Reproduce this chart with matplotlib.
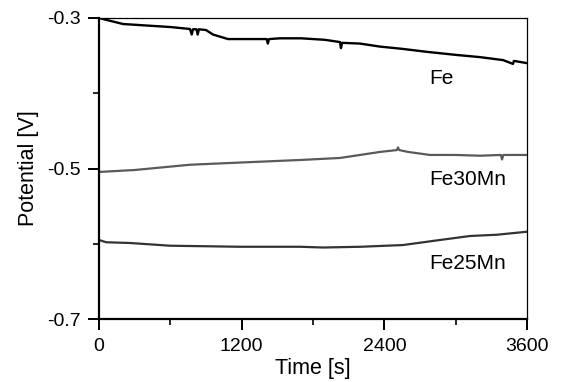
import matplotlib.pyplot as plt
from matplotlib.ticker import MultipleLocator

plt.rcParams['font.family'] = ['Liberation Sans', 'DejaVu Sans']

# Fe (black) -- includes the small measurement spikes
fe_t = [0, 100, 202, 400, 600, 765, 780, 790, 820, 830, 840, 900, 959, 1085,
        1300, 1410, 1420, 1430, 1522, 1700, 1900, 2027, 2035, 2045, 2195,
        2363, 2550, 2759, 3000, 3205, 3400, 3482, 3490, 3600]
fe_v = [-0.300, -0.304, -0.308, -0.310, -0.312, -0.3146, -0.322, -0.315,
        -0.315, -0.322, -0.315, -0.316, -0.322, -0.328, -0.328, -0.328,
        -0.334, -0.328, -0.327, -0.327, -0.329, -0.332, -0.340, -0.333,
        -0.334, -0.338, -0.341, -0.345, -0.349, -0.352, -0.356, -0.361,
        -0.357, -0.360]

# Fe30Mn (grey)
fe30_t = [0, 300, 765, 1200, 1690, 2027, 2363, 2505, 2515, 2525, 2600, 2784,
          3000, 3205, 3380, 3390, 3400, 3600]
fe30_v = [-0.5046, -0.502, -0.495, -0.492, -0.4887, -0.486, -0.478, -0.4755,
          -0.472, -0.4755, -0.478, -0.482, -0.482, -0.483, -0.482, -0.488,
          -0.482, -0.482]

# Fe25Mn (dark grey)
fe25_t = [0, 60, 261, 597, 1186, 1691, 1884, 2200, 2557, 2868, 3120, 3348, 3600]
fe25_v = [-0.595, -0.598, -0.599, -0.6026, -0.604, -0.604, -0.605, -0.604,
          -0.6017, -0.595, -0.5897, -0.588, -0.584]

fig = plt.figure(figsize=(5.61, 3.82), dpi=100)
ax = fig.add_axes([0.1765, 0.1649, 0.7629, 0.788])

ax.plot(fe_t, fe_v, color='black', lw=1.7)
ax.plot(fe30_t, fe30_v, color='#5a5a5a', lw=1.6)
ax.plot(fe25_t, fe25_v, color='#333333', lw=1.6)

ax.text(2877, -0.381, 'Fe', fontsize=15, ha='center', va='center')
ax.text(3104, -0.515, 'Fe30Mn', fontsize=15, ha='center', va='center')
ax.text(3104, -0.6256, 'Fe25Mn', fontsize=15, ha='center', va='center')

ax.set_xlim(0, 3600)
ax.set_ylim(-0.7, -0.3)
ax.set_xticks([0, 1200, 2400, 3600])
ax.set_yticks([-0.7, -0.5, -0.3])
ax.set_yticklabels(['-0.7', '-0.5', '-0.3'])
ax.xaxis.set_minor_locator(MultipleLocator(600))
ax.yaxis.set_minor_locator(MultipleLocator(0.1))
ax.tick_params(which='major', direction='out', length=8, width=1.4, labelsize=14,
               top=False, right=False)
ax.tick_params(which='minor', direction='out', length=4, width=1.2,
               top=False, right=False)
ax.tick_params(axis='x', which='major', pad=6)
ax.tick_params(axis='y', which='major', pad=5)

for s in ['left', 'bottom']:
    ax.spines[s].set_linewidth(1.6)
for s in ['top', 'right']:
    ax.spines[s].set_linewidth(0.9)

ax.set_xlabel('Time [s]', fontsize=15.5, labelpad=2)
ax.set_ylabel('Potential [V]', fontsize=15.5, labelpad=6)

fig.savefig('out.png', dpi=100)
